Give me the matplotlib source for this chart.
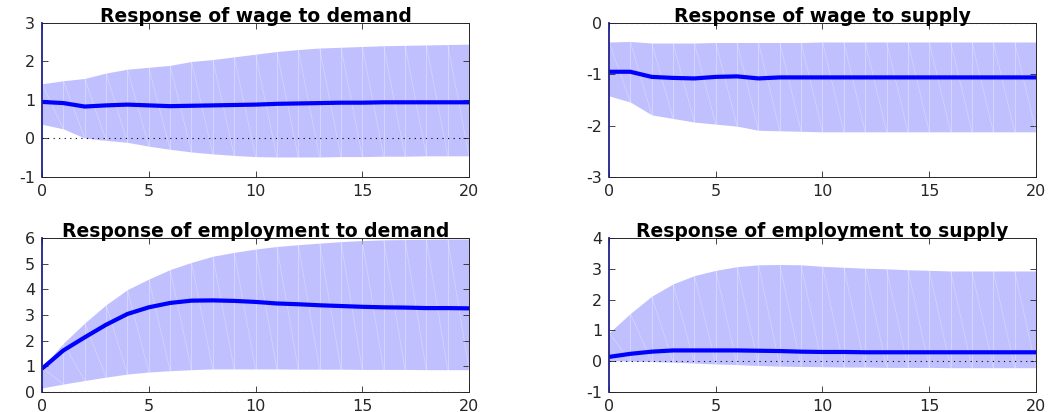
#!/usr/bin/env python
"""Impulse responses of wage and employment to demand / supply shocks."""
import matplotlib

matplotlib.use("Agg")
import matplotlib.pyplot as plt
import numpy as np

plt.rcParams["axes.unicode_minus"] = False

horizon = np.arange(21)

# wage to demand
wd_med = [0.95, 0.92, 0.83, 0.86, 0.88, 0.86, 0.84, 0.85, 0.86, 0.87, 0.88,
          0.90, 0.91, 0.92, 0.93, 0.93, 0.94, 0.94, 0.94, 0.94, 0.94]
wd_up = [1.42, 1.50, 1.56, 1.70, 1.80, 1.85, 1.90, 2.00, 2.05, 2.12, 2.19,
         2.26, 2.31, 2.35, 2.37, 2.39, 2.41, 2.42, 2.43, 2.44, 2.45]
wd_lo = [0.37, 0.25, 0.01, -0.05, -0.10, -0.20, -0.28, -0.35, -0.40, -0.44, -0.47,
         -0.48, -0.48, -0.48, -0.47, -0.47, -0.46, -0.46, -0.45, -0.45, -0.45]

# wage to supply
ws_med = [-0.95, -0.95, -1.05, -1.07, -1.08, -1.05, -1.04, -1.08, -1.06, -1.06, -1.06,
          -1.06, -1.06, -1.06, -1.06, -1.06, -1.06, -1.06, -1.06, -1.06, -1.06]
ws_up = [-0.37, -0.36, -0.39, -0.39, -0.39, -0.38, -0.38, -0.38, -0.38, -0.38, -0.37,
         -0.37, -0.37, -0.37, -0.37, -0.37, -0.37, -0.37, -0.37, -0.37, -0.37]
ws_lo = [-1.42, -1.54, -1.79, -1.86, -1.93, -1.97, -2.01, -2.09, -2.10, -2.11, -2.12,
         -2.12, -2.12, -2.12, -2.12, -2.12, -2.12, -2.12, -2.12, -2.12, -2.12]

# employment to demand
ed_med = [0.91, 1.62, 2.13, 2.62, 3.04, 3.30, 3.47, 3.56, 3.57, 3.55, 3.51,
          3.45, 3.42, 3.38, 3.35, 3.32, 3.30, 3.29, 3.27, 3.27, 3.26]
ed_up = [0.95, 1.90, 2.69, 3.40, 3.99, 4.40, 4.77, 5.05, 5.29, 5.44, 5.57,
         5.67, 5.74, 5.80, 5.86, 5.90, 5.93, 5.94, 5.95, 5.96, 5.96]
ed_lo = [0.16, 0.31, 0.45, 0.58, 0.70, 0.78, 0.83, 0.87, 0.90, 0.90, 0.90,
         0.90, 0.89, 0.89, 0.89, 0.88, 0.88, 0.88, 0.87, 0.87, 0.87]

# employment to supply
es_med = [0.14, 0.24, 0.31, 0.35, 0.35, 0.35, 0.35, 0.34, 0.33, 0.31, 0.30,
          0.30, 0.29, 0.29, 0.29, 0.29, 0.29, 0.29, 0.29, 0.29, 0.29]
es_up = [0.92, 1.55, 2.11, 2.51, 2.78, 2.95, 3.07, 3.13, 3.14, 3.13, 3.08,
         3.05, 3.02, 3.00, 2.97, 2.95, 2.93, 2.93, 2.93, 2.93, 2.93]
es_lo = [0.02, 0.00, -0.01, -0.03, -0.06, -0.09, -0.11, -0.14, -0.16, -0.17, -0.18,
         -0.19, -0.19, -0.20, -0.20, -0.20, -0.21, -0.21, -0.21, -0.21, -0.21]

titles = ["Response of wage to demand", "Response of wage to supply",
          "Response of employment to demand", "Response of employment to supply"]
ylims = [(-1, 3), (-3, 0), (0, 6), (-1, 4)]

panels = [(wd_med, wd_up, wd_lo), (ws_med, ws_up, ws_lo),
          (ed_med, ed_up, ed_lo), (es_med, es_up, es_lo)]

# axes boxes in figure fractions (left, bottom, width, height)
boxes = [(0.0397, 0.5704, 0.4036, 0.3738), (0.5756, 0.5704, 0.4036, 0.3738),
         (0.0397, 0.0485, 0.4036, 0.3738), (0.5756, 0.0485, 0.4036, 0.3738)]

fig = plt.figure(figsize=(10.58, 4.12), dpi=100)
for (med, up, lo), title, yl, box in zip(panels, titles, ylims, boxes):
    ax = fig.add_axes(box)
    up = np.array(up)
    lo = np.array(lo)
    ax.fill_between(horizon, lo, up, color="#c0c0ff", lw=0)
    # faint white seams of the patch triangulation
    for i in horizon[1:-1]:
        ax.plot([i, i], [lo[i], up[i]], color="white", lw=0.5, alpha=0.45)
    for i in horizon[:-1]:
        ax.plot([i, i + 1], [up[i], lo[i + 1]], color="white", lw=0.5, alpha=0.35)
    ax.axhline(0, color="black", lw=0.8, ls=(0, (1, 4)))
    ax.plot(horizon, med, color="#0000ff", lw=3, solid_capstyle="butt")
    ax.set_xlim(0, 20)
    ax.set_ylim(*yl)
    ax.set_xticks([0, 5, 10, 15, 20])
    ax.set_yticks(np.arange(yl[0], yl[1] + 1))
    ax.tick_params(direction="in", top=True, right=True, length=4, width=0.6,
                   labelsize=11.5, colors="#262626", pad=5)
    for side in ("top", "right", "bottom"):
        ax.spines[side].set_color("#262626")
        ax.spines[side].set_linewidth(0.7)
    ax.spines["left"].set_color("#20208c")
    ax.spines["left"].set_linewidth(1.3)
    ax.set_title(title, fontsize=13.5, fontweight="bold", pad=1)

fig.savefig("out.png", dpi=100)
